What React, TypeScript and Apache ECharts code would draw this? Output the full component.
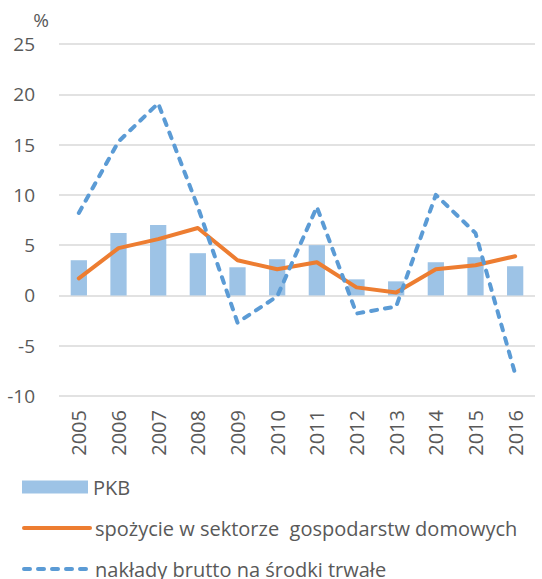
import React, { useEffect, useRef } from "react";
import * as echarts from "echarts";

const years = ["2005", "2006", "2007", "2008", "2009", "2010", "2011", "2012", "2013", "2014", "2015", "2016"];
const pkb = [3.5, 6.2, 7.0, 4.2, 2.8, 3.6, 5.0, 1.6, 1.4, 3.3, 3.8, 2.9];
const spozycie = [1.7, 4.7, 5.6, 6.7, 3.5, 2.6, 3.3, 0.8, 0.3, 2.6, 3.0, 3.9];
const naklady = [8.2, 15.3, 19.1, 8.8, -2.7, -0.1, 8.8, -1.8, -1.1, 10.0, 6.2, -7.8];

const nameBar = "PKB";
const nameCons = "spożycie w sektorze  gospodarstw domowych";
const nameInv = "nakłady brutto na środki trwałe";

const FONT = "Open Sans";
const TXT = "#595959";

export default function App() {
  const ref = useRef<HTMLDivElement>(null);
  useEffect(() => {
    if (!ref.current) return;
    const chart = echarts.init(ref.current, undefined, { renderer: "svg" });
    const legendBase = {
      orient: "vertical" as const,
      left: 22,
      padding: 0,
      itemWidth: 66,
      itemHeight: 13,
      itemGap: 0,
      itemTextGap: 7,
      textStyle: { fontFamily: FONT, fontSize: 20, color: TXT, lineHeight: 22 },
      selectedMode: false,
    };
    chart.setOption({
      animation: false,
      textStyle: { fontFamily: FONT },
      grid: { left: 59, right: 7, top: 44, bottom: 183, containLabel: false },
      graphic: [
        {
          type: "text",
          x: 41,
          y: 20,
          style: { text: "%", fontFamily: FONT, fontSize: 19, fill: TXT, align: "center", verticalAlign: "middle" },
        },
      ],
      legend: [
        { ...legendBase, top: 476, data: [{ name: nameBar, icon: "rect" }] },
        {
          ...legendBase,
          top: 517,
          itemStyle: { opacity: 0 },
          lineStyle: { width: 4 },
          data: [{ name: nameCons }],
        },
        {
          ...legendBase,
          top: 558,
          itemStyle: { opacity: 0 },
          lineStyle: { width: 4 },
          data: [{ name: nameInv }],
        },
      ],
      xAxis: {
        type: "category",
        data: years,
        axisLine: { show: false },
        axisTick: { show: false },
        axisLabel: { rotate: 90, margin: 14, fontSize: 20, color: TXT, fontFamily: FONT },
      },
      yAxis: {
        type: "value",
        min: -10,
        max: 25,
        interval: 5,
        axisLine: { show: false },
        axisTick: { show: false },
        splitLine: { lineStyle: { color: "#d9d9d9", width: 1.5 } },
        axisLabel: { margin: 24, fontSize: 19, color: TXT, fontFamily: FONT },
      },
      series: [
        {
          name: nameBar,
          type: "bar",
          data: pkb,
          barWidth: "41%",
          itemStyle: { color: "#9dc3e6" },
        },
        {
          name: nameCons,
          type: "line",
          data: spozycie,
          symbol: "none",
          lineStyle: { color: "#ed7d31", width: 4, cap: "round", join: "round" },
          itemStyle: { color: "#ed7d31" },
        },
        {
          name: nameInv,
          type: "line",
          data: naklady,
          symbol: "none",
          lineStyle: { color: "#5b9bd5", width: 4, type: [6, 8], cap: "round", join: "round" },
          itemStyle: { color: "#5b9bd5" },
        },
      ],
    });
    return () => chart.dispose();
  }, []);
  return <div ref={ref} style={{ width: 542, height: 579, position: "absolute", left: 0, top: 0 }} />;
}
